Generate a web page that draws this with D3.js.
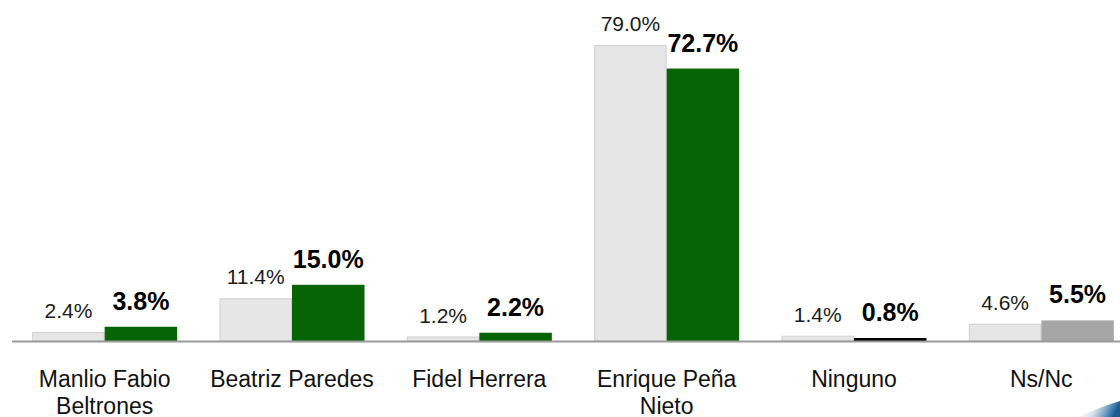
<!DOCTYPE html>
<html>
<head>
<meta charset="utf-8">
<script src="https://cdn.jsdelivr.net/npm/d3@7"></script>
<style>
  html, body { margin: 0; padding: 0; background: #ffffff; }
  svg { display: block; font-family: "Liberation Sans", Arial, sans-serif; }
</style>
</head>
<body>
<svg id="chart" width="1120" height="417"></svg>
<script>
const categories = [
  ["Manlio Fabio", "Beltrones"],
  ["Beatriz Paredes"],
  ["Fidel Herrera"],
  ["Enrique Peña", "Nieto"],
  ["Ninguno"],
  ["Ns/Nc"]
];
const previousValues = [2.4, 11.4, 1.2, 79.0, 1.4, 4.6];
const currentValues  = [3.8, 15.0, 2.2, 72.7, 0.8, 5.5];
const valueLabelsPrev = ["2.4%", "11.4%", "1.2%", "79.0%", "1.4%", "4.6%"];
const valueLabelsCurr = ["3.8%", "15.0%", "2.2%", "72.7%", "0.8%", "5.5%"];
const currentColors = ["#066406", "#066406", "#066406", "#066406", "#000000", "#a6a6a6"];

const svg = d3.select("#chart");
const W = 1120, H = 417;
const baseY = 341;

const keys = categories.map((c, i) => "c" + i);

const x = d3.scaleBand()
  .domain(keys)
  .range([11, 1135])
  .paddingInner(0.226)
  .paddingOuter(0.113);

const sub = d3.scaleBand()
  .domain(["prev", "curr"])
  .range([0, x.bandwidth()])
  .padding(0);

const y = d3.scaleLinear()
  .domain([0, 80])
  .range([baseY, baseY - 299.8]);

// decorative swoosh bottom-right
const defs = svg.append("defs");
const grad = defs.append("linearGradient").attr("id", "sw")
  .attr("x1", "0").attr("y1", "0").attr("x2", "1").attr("y2", "0.2");
grad.append("stop").attr("offset", "0").attr("stop-color", "#ffffff").attr("stop-opacity", 0);
grad.append("stop").attr("offset", "0.5").attr("stop-color", "#c9d9e6").attr("stop-opacity", 0.8);
grad.append("stop").attr("offset", "0.85").attr("stop-color", "#4f86b3");
grad.append("stop").attr("offset", "1").attr("stop-color", "#1b5b90");
svg.append("path")
  .attr("d", "M1078,417 Q1100,407 1120,401 L1120,417 Z")
  .attr("fill", "url(#sw)");

const groups = svg.append("g").selectAll("g")
  .data(keys)
  .join("g")
  .attr("transform", d => `translate(${x(d)},0)`);

// previous bars (light gray)
groups.append("rect")
  .attr("x", sub("prev") + 0.5)
  .attr("y", (d, i) => y(previousValues[i]) + 0.5)
  .attr("width", sub.bandwidth() - 1)
  .attr("height", (d, i) => Math.max(0, y(0) - y(previousValues[i]) - 0.5))
  .attr("fill", "#e6e6e6")
  .attr("stroke", "#cfcfcf")
  .attr("stroke-width", 1);

// current bars
groups.append("rect")
  .attr("x", sub("curr"))
  .attr("y", (d, i) => y(currentValues[i]))
  .attr("width", sub.bandwidth())
  .attr("height", (d, i) => y(0) - y(currentValues[i]))
  .attr("fill", (d, i) => currentColors[i]);

// axis baseline
svg.append("line")
  .attr("x1", 12).attr("x2", W)
  .attr("y1", baseY + 0.5).attr("y2", baseY + 0.5)
  .attr("stroke", "#9a9a9a")
  .attr("stroke-width", 2);

// value labels
groups.append("text")
  .attr("x", sub("prev") + sub.bandwidth() / 2)
  .attr("y", (d, i) => y(previousValues[i]) - 14)
  .attr("text-anchor", "middle")
  .attr("font-size", 21)
  .attr("fill", "#1a1a1a")
  .text((d, i) => valueLabelsPrev[i]);

groups.append("text")
  .attr("x", sub("curr") + sub.bandwidth() / 2)
  .attr("y", (d, i) => y(currentValues[i]) - 17)
  .attr("text-anchor", "middle")
  .attr("font-size", 25)
  .attr("font-weight", "bold")
  .attr("fill", "#000000")
  .text((d, i) => valueLabelsCurr[i]);

// category labels
const cat = groups.append("text")
  .attr("x", x.bandwidth() / 2)
  .attr("y", 387)
  .attr("text-anchor", "middle")
  .attr("font-size", 23)
  .attr("fill", "#111111");
cat.each(function(d, i) {
  const t = d3.select(this);
  categories[i].forEach((line, j) => {
    t.append("tspan")
      .attr("x", x.bandwidth() / 2)
      .attr("dy", j === 0 ? 0 : 26.5)
      .text(line);
  });
});
</script>
</body>
</html>
